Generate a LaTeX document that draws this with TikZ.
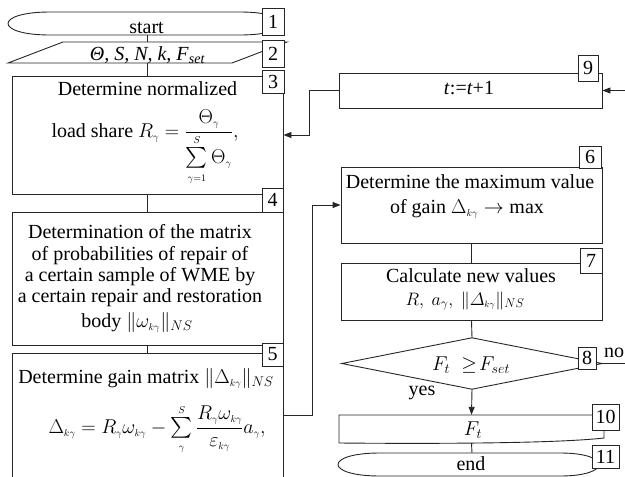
\documentclass[tikz,border=0pt]{standalone}
\usepackage{fix-cm}
\usepackage{amsmath}
\usepackage{fontspec}
\setmainfont{Liberation Serif}
\usetikzlibrary{arrows.meta}
\newcommand\kgam{{\scriptscriptstyle k\gamma}}
\newcommand\sgam{{\scriptscriptstyle\gamma}}
\tikzset{
  ln/.style={draw=black!85, line width=0.9pt},
  boxn/.style={ln, rectangle, inner sep=0pt},
  ghost/.style={rectangle, inner sep=0pt},
  numbox/.style={ln, fill=white, inner sep=0pt, font=\fontsize{20}{22}\selectfont},
  txt/.style={anchor=base, inner sep=0pt, font=\fontsize{20}{22}\selectfont},
  smalltxt/.style={anchor=base, inner sep=0pt, font=\fontsize{18}{20}\selectfont},
  arr/.style={ln, -{Triangle[length=8pt,width=6pt]}},
}
\begin{document}
\begin{tikzpicture}[x=1pt,y=-1pt]
\useasboundingbox (0,0) rectangle (625,477);
\clip (0,0) rectangle (625,477);

% ---- shapes (left column)
\node[ghost, minimum width=279pt, minimum height=23pt] (start) at (147.5,23.5) {};
\draw[ln] (50,12) -- (240,12) .. controls (296,12) and (296,35) .. (240,35) -- (50,35) .. controls (-6,35) and (-6,12) .. (50,12);
\node[ghost, minimum width=279pt, minimum height=21pt] (input) at (147.5,52.5) {};
\draw[ln] (63,42) -- (287,42) -- (232,63) -- (8,63) -- cycle;
\node[boxn, minimum width=271pt, minimum height=118pt] (box3) at (147.5,135) {};
\node[boxn, minimum width=271pt, minimum height=133pt] (box4) at (147.5,278.5) {};
\node[boxn, minimum width=271pt, minimum height=137pt] (box5) at (147.5,421.5) {};

% ---- shapes (right column)
\node[boxn, minimum width=263pt, minimum height=35pt] (box9) at (470.5,90.5) {};
\node[boxn, minimum width=261pt, minimum height=76pt] (box6) at (471.5,205) {};
\node[boxn, minimum width=261pt, minimum height=57pt] (box7) at (471.5,291.5) {};
\node[ghost, minimum width=260pt, minimum height=51pt] (dec) at (472,363.5) {};
\draw[ln] (dec.north) -- (dec.east) -- (dec.south) -- (dec.west) -- cycle;
\node[ghost, minimum width=265pt, minimum height=28pt] (box10) at (471.5,429) {};
\draw[ln] (339,415) -- (604,415) -- (604,438) .. controls (560,443) and (450,444) .. (339,443) -- cycle;
\node[ghost, minimum width=270pt, minimum height=23pt] (endn) at (472,464.5) {};
\draw[ln] (380,453) -- (560,453) .. controls (612,453) and (612,476) .. (560,476) -- (380,476) .. controls (324,476) and (324,453) .. (380,453);

% ---- connectors
\coordinate (y415) at (0,415);
\coordinate (r9) at (625,90.5);
\coordinate (r8) at (625,363.5);
\draw[ln] (start.south) -- (input.north);
\draw[ln] (input.south) -- (box3.north);
\draw[ln] (box3.south) -- (box4.north);
\draw[ln] (box4.south) -- (box5.north);
\draw[arr] (box5.east |- y415) -- ++(29,0) |- (box6.west);
\draw[arr] (box9.west) -- ++(-29,0) |- (box3.east);
\draw[arr] (r9) -- (box9.east);
\draw[ln] (box6.south) -- (box7.north);
\draw[ln] (box7.south) -- (dec.north);
\draw[arr] (dec.south) -- (box10.north);
\draw[ln] (box10.south) -- (endn.north);
\draw[ln] (dec.east) -- (r8);

% ---- texts
\node[txt] (tstart) at (146.5,33) {start};
\node[txt] (tin) at (147.5,60) {\textit{Θ, S, N, k, F}\textsubscript{\textit{set}}};
\node[txt] (t3a) at (147.5,95) {Determine normalized};
\node[txt] (t3b) at (145,137) {load share $R_\sgam = \dfrac{\Theta_\sgam}{\sum\limits_{\scriptscriptstyle\gamma=1}^{\scriptscriptstyle S}\Theta_\sgam},$};
\node[txt] (t4a) at (140,238) {Determination of the matrix};
\node[txt] (t4b) at (140,260) {of probabilities of repair of};
\node[txt] (t4c) at (140,281) {a certain sample of WME by};
\node[txt] (t4d) at (140,302) {a certain repair and restoration};
\node[txt] (t4e) at (137,327) {body $\|\omega_\kgam\|_{NS}$};
\node[txt] (t5a) at (146,383) {Determine gain matrix $\|\Delta_\kgam\|_{NS}$};
\node[txt] (t5b) at (157,433) {$\Delta_\kgam = R_\sgam\omega_\kgam - \sum\limits_{\scriptscriptstyle\gamma}^{\scriptscriptstyle S}\dfrac{R_\sgam\omega_\kgam}{\varepsilon_\kgam}a_\sgam,$};
\node[txt] (t9) at (469,94) {\textit{t}:=\textit{t}+1};
\node[txt] (t6a) at (470,188) {Determine the maximum value};
\node[txt] (t6b) at (467,213) {of gain $\Delta_\kgam\rightarrow\max$};
\node[txt] (t7a) at (471,282) {Calculate new values};
\node[smalltxt] (t7b) at (465,305) {$R,\ a_{\gamma},\ \|\varDelta_\kgam\|_{NS}$};
\node[txt] (t8) at (471,370) {$F_t\;\geq\! F_{set}$};
\node[txt] (tyes) at (422,395) {yes};
\node[txt] (tno) at (614,357) {no};
\node[txt] (t10) at (473,435) {$F_t$};
\node[txt] (tend) at (471,470) {end};

% ---- number labels
\node[numbox, minimum width=22pt, minimum height=27pt] (n1) at (273,21.5) {1};
\node[numbox, minimum width=22pt, minimum height=27pt] (n2) at (273,53.5) {2};
\node[numbox, minimum width=22pt, minimum height=23pt] (n3) at (273,81.5) {3};
\node[numbox, minimum width=21pt, minimum height=24pt] (n4) at (272.5,200) {4};
\node[numbox, minimum width=21pt, minimum height=23pt] (n5) at (272.5,354.5) {5};
\node[numbox, minimum width=20pt, minimum height=26pt] (n9) at (588,68) {9};
\node[numbox, minimum width=22pt, minimum height=22pt] (n6) at (590,157) {6};
\node[numbox, minimum width=22pt, minimum height=25pt] (n7) at (591,260.5) {7};
\node[numbox, minimum width=18pt, minimum height=22pt] (n8) at (587,358) {8};
\node[numbox, minimum width=27pt, minimum height=26pt] (n10) at (605.5,417) {10};
\node[numbox, minimum width=27pt, minimum height=23pt] (n11) at (605.5,456.5) {11};
\end{tikzpicture}
\end{document}
